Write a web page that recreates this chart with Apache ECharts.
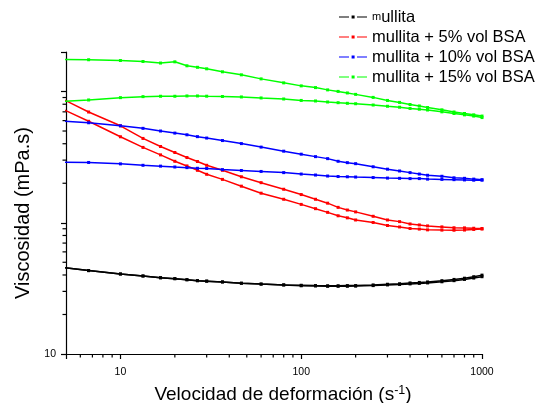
<!DOCTYPE html>
<html>
<head>
<meta charset="utf-8">
<script src="https://cdn.jsdelivr.net/npm/echarts@6/dist/echarts.min.js"></script>
<style>
  html, body { margin: 0; padding: 0; background: #fff; }
  #chart { width: 537px; height: 403px; }
</style>
</head>
<body>
<div id="chart"></div>
<script>
  // shear rate (s-1) where the points were read
  const shearRate = [3.33, 6.67, 10, 13.33, 16.67, 20, 23.33, 26.67, 30, 36.67, 46.67, 60, 80, 100, 120, 140, 160, 180, 200, 250, 300, 350, 400, 450, 500, 600, 700, 800, 900, 1000]

  // viscosity (mPa.s), up and down sweep for each sample
  const mullitaUp = [48.4, 43.2, 40.7, 39.3, 38.1, 37.5, 36.8, 36.2, 35.9, 35.4, 34.6, 34.1, 33.6, 33.4, 33.2, 33.1, 33.1, 33.2, 33.2, 33.6, 34.0, 34.3, 34.8, 35.1, 35.4, 36.2, 37.0, 37.8, 38.8, 39.9]
  const mullitaDown = [48.4, 43.2, 40.7, 39.3, 38.1, 37.5, 36.8, 36.2, 35.9, 35.4, 34.6, 34.1, 33.6, 33.1, 33.0, 32.8, 32.8, 32.8, 32.9, 33.2, 33.6, 33.9, 34.2, 34.5, 34.8, 35.5, 36.2, 37.0, 37.9, 38.8]
  const bsa5Up = [1125, 698, 548, 439, 381, 343, 314, 293, 274, 251, 224, 202, 180, 164, 151, 141, 131, 125, 121, 112, 105, 102, 97.9, 96.2, 94.6, 93, 91.6, 91.4, 90.8, 90.4]
  const bsa5Down = [929, 593, 452, 375, 329, 294, 271, 251, 234, 214, 190, 168, 151, 138, 128, 120, 113, 109, 105, 100.5, 95.3, 92.9, 90.4, 89.5, 88.3, 87.9, 87.7, 88.0, 88.9, 89.5]
  const bsa10Up = [614, 578, 548, 524, 500, 482, 468, 453, 442, 423, 401, 377, 351, 333, 319, 308, 294, 287, 282, 267, 256, 248, 241, 235, 230, 226, 220, 218, 215, 213]
  const bsa10Down = [290, 288, 281, 274, 270, 266, 263, 260, 259, 254, 250, 246, 241, 235, 231, 227, 225, 224, 223, 221, 219, 218, 217, 217, 215, 214, 213, 212, 211, 211]
  const bsa15Up = [1765, 1746, 1722, 1693, 1648, 1683, 1570, 1529, 1489, 1413, 1340, 1248, 1164, 1104, 1071, 1029, 1002, 975, 951, 902, 855, 826, 796, 776, 755, 725, 698, 680, 664, 650]
  const bsa15Down = [818, 862, 898, 914, 920, 920, 925, 925, 921, 916, 909, 893, 877, 855, 847, 832, 822, 813, 807, 789, 772, 759, 743, 733, 723, 700, 680, 664, 650, 633]

  const seriesNames = ['mullita', 'mullita + 5% vol BSA', 'mullita + 10% vol BSA', 'mullita + 15% vol BSA']
  const colors = ['#000000', '#ff0000', '#0000ff', '#00ff00']

  const xLabels = [10, 100, 1000]
  const yLabels = [10]
  const xMinorTicks = [6, 7, 8, 9, 20, 30, 40, 50, 60, 70, 80, 90, 200, 300, 400, 500, 600, 700, 800, 900]
  const yMinorTicks = [20, 30, 40, 50, 60, 70, 80, 90, 200, 300, 400, 500, 600, 700, 800, 900]

  const xMin = 5, xMax = 1000, yMin = 10, yMax = 2000

  const font = 'Arial, "Liberation Sans", sans-serif'

  // legend icon: line - square - line
  const legendIcon = 'path://M0,1L10,1L10,2L0,2Z M12.6,0L15.6,0L15.6,3L12.6,3Z M18,1L28,1L28,2L18,2Z'

  function pairs(ys) {
    return shearRate.map((x, i) => [x, ys[i]])
  }

  function curve(idx, ys) {
    return {
      name: seriesNames[idx],
      type: 'line',
      data: pairs(ys),
      symbol: 'rect',
      symbolSize: 3,
      showAllSymbol: true,
      color: colors[idx],
      lineStyle: {width: 1.5, color: colors[idx]},
      itemStyle: {color: colors[idx]},
      clip: true
    }
  }

  const chart = echarts.init(document.getElementById('chart'))

  chart.setOption({
    animation: false,
    backgroundColor: '#fff',
    grid: {left: 66, right: 55, top: 52, bottom: 49, outerBoundsMode: 'none', containLabel: false},
    legend: {
      data: seriesNames,
      orient: 'vertical',
      left: 339,
      top: 8,
      padding: 0,
      icon: legendIcon,
      itemWidth: 28,
      itemHeight: 3,
      itemGap: 2,
      textStyle: {
        fontSize: 16.5,
        fontFamily: font,
        color: '#000',
        lineHeight: 18,
        rich: {s: {fontSize: 11, fontFamily: font, color: '#000'}}
      },
      formatter: function (name) {
        return name === 'mullita' ? '{s|m}ullita' : name
      }
    },
    xAxis: {
      type: 'log',
      min: xMin,
      max: xMax,
      name: 'Velocidad de deformación (s{sup|-1})',
      nameLocation: 'middle',
      nameGap: 30,
      nameTextStyle: {
        fontSize: 19,
        fontFamily: font,
        color: '#000',
        lineHeight: 22,
        padding: [0, 0, 0, 18],
        rich: {sup: {fontSize: 12.5, fontFamily: font, color: '#000', verticalAlign: 'top', lineHeight: 22}}
      },
      axisLine: {lineStyle: {color: '#000', width: 1.2}},
      axisTick: {inside: false, length: 5, lineStyle: {color: '#000', width: 1.2}},
      axisLabel: {
        fontSize: 10.5,
        fontFamily: font,
        color: '#000',
        margin: 13,
        formatter: v => xLabels.includes(Math.round(v)) ? String(Math.round(v)) : ''
      },
      splitLine: {show: false}
    },
    yAxis: {
      type: 'log',
      min: yMin,
      max: yMax,
      name: 'Viscosidad (mPa.s)',
      nameLocation: 'middle',
      nameGap: 30,
      nameRotate: 90,
      nameTextStyle: {
        fontSize: 20,
        fontFamily: font,
        color: '#000',
        padding: [0, 20, 0, 0]
      },
      axisLine: {show: true, lineStyle: {color: '#000', width: 1.2}},
      axisTick: {show: true, inside: false, length: 5, lineStyle: {color: '#000', width: 1.2}},
      axisLabel: {
        fontSize: 10.5,
        fontFamily: font,
        color: '#000',
        margin: 10,
        verticalAlign: 'middle',
        verticalAlignMinLabel: 'middle',
        formatter: v => yLabels.includes(Math.round(v)) ? String(Math.round(v)) : ''
      },
      splitLine: {show: false}
    },
    series: [
      curve(0, mullitaUp),
      curve(0, mullitaDown),
      curve(1, bsa5Up),
      curve(1, bsa5Down),
      curve(2, bsa10Up),
      curve(2, bsa10Down),
      curve(3, bsa15Up),
      curve(3, bsa15Down),
      {
        // minor ticks on x axis
        type: 'custom',
        silent: true,
        clip: false,
        data: xMinorTicks.map(v => [v, yMin]),
        renderItem: function (params, api) {
          const p = api.coord([api.value(0), api.value(1)])
          return {
            type: 'line',
            shape: {x1: p[0], y1: p[1], x2: p[0], y2: p[1] + 3.5},
            style: {stroke: '#000', lineWidth: 1.2}
          }
        }
      },
      {
        // minor ticks on y axis
        type: 'custom',
        silent: true,
        clip: false,
        data: yMinorTicks.map(v => [xMin, v]),
        renderItem: function (params, api) {
          const p = api.coord([api.value(0), api.value(1)])
          return {
            type: 'line',
            shape: {x1: p[0], y1: p[1], x2: p[0] - 3.5, y2: p[1]},
            style: {stroke: '#000', lineWidth: 1.2}
          }
        }
      }
    ]
  })
</script>
</body>
</html>
